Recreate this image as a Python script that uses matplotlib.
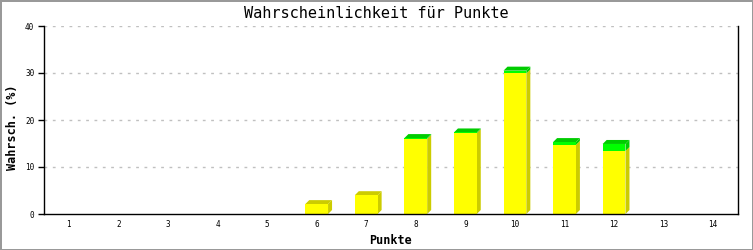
import matplotlib
matplotlib.use("Agg")
import matplotlib.pyplot as plt
from matplotlib.patches import Polygon

categories = list(range(1, 15))
yellow_vals = [0, 0, 0, 0, 0, 2.1, 4.0, 16.0, 17.2, 29.9, 14.7, 13.4, 0, 0]
green_vals  = [0, 0, 0, 0, 0, 0, 0, 0.15, 0.15, 0.6, 0.6, 1.5, 0, 0]
yticks = [0, 10, 20, 30, 40]

W, H, DPI = 753, 250, 100
fig = plt.figure(figsize=(W / DPI, H / DPI), dpi=DPI)
fig.patch.set_facecolor("white")
fig.patch.set_edgecolor("#999999")
fig.patch.set_linewidth(2)

mono = "DejaVu Sans Mono"
ax = fig.add_axes([44 / W, 1 - 214 / H, (738 - 44) / W, (214 - 26) / H])
ax.set_xlim(0.5, 14.5)
ax.set_ylim(0, 40)

# pixel -> data conversion for 3D depth
ax_w_px = 738 - 44
ax_h_px = 214 - 26
dx = 4 * 14.0 / ax_w_px
dy = 4 * 40.0 / ax_h_px
bw = 0.46

for y in yticks[1:]:
    ax.axhline(y, color="#C0C0C0", lw=1, ls=(0, (2, 4)), zorder=0)

YF, YD = "#FFFF00", "#CCCC00"
GF, GD = "#00FF00", "#00CC00"

for x, yv, gv in zip(categories, yellow_vals, green_vals):
    tot = yv + gv
    if tot <= 0:
        continue
    l, r = x - bw / 2, x + bw / 2
    ax.add_patch(Polygon([(r, 0), (r + dx, dy), (r + dx, yv + dy), (r, yv)],
                         closed=True, facecolor=YD, edgecolor="none", zorder=2))
    ax.bar(x, yv, width=bw, color=YF, edgecolor="none", zorder=3)
    if gv > 0:
        ax.add_patch(Polygon([(r, yv), (r + dx, yv + dy), (r + dx, tot + dy), (r, tot)],
                             closed=True, facecolor=GD, edgecolor="none", zorder=2))
        ax.bar(x, gv, bottom=yv, width=bw, color=GF, edgecolor="none", zorder=3)
        topc = GD
    else:
        topc = YD
    ax.add_patch(Polygon([(l, tot), (l + dx, tot + dy), (r + dx, tot + dy), (r, tot)],
                         closed=True, facecolor=topc, edgecolor="none", zorder=2))

ax.spines["top"].set_visible(False)
for s in ["left", "bottom", "right"]:
    ax.spines[s].set_color("black")
    ax.spines[s].set_linewidth(1)
ax.spines["bottom"].set_zorder(5)

ax.set_yticks(yticks)
ax.set_yticklabels([str(v) for v in yticks], fontsize=5.5, family=mono)
ax.set_xticks(categories)
ax.set_xticklabels([str(c) for c in categories], fontsize=5.5, family=mono)
ax.tick_params(axis="y", direction="out", length=4, width=1, pad=3)
ax.tick_params(axis="x", length=0, pad=4)

fig.text(0.5, 1 - 13 / H, "Wahrscheinlichkeit für Punkte", ha="center", va="center",
         fontsize=11, family=mono)
fig.text(391 / W, 1 - 240 / H, "Punkte", ha="center", va="center",
         fontsize=8.5, family=mono, fontweight="bold")
fig.text(13 / W, 1 - 127 / H, "Wahrsch. (%)", ha="center", va="center", rotation=90,
         fontsize=8.5, family=mono, fontweight="bold")

fig.savefig("out.png", dpi=DPI, facecolor=fig.get_facecolor(), edgecolor=fig.get_edgecolor())
